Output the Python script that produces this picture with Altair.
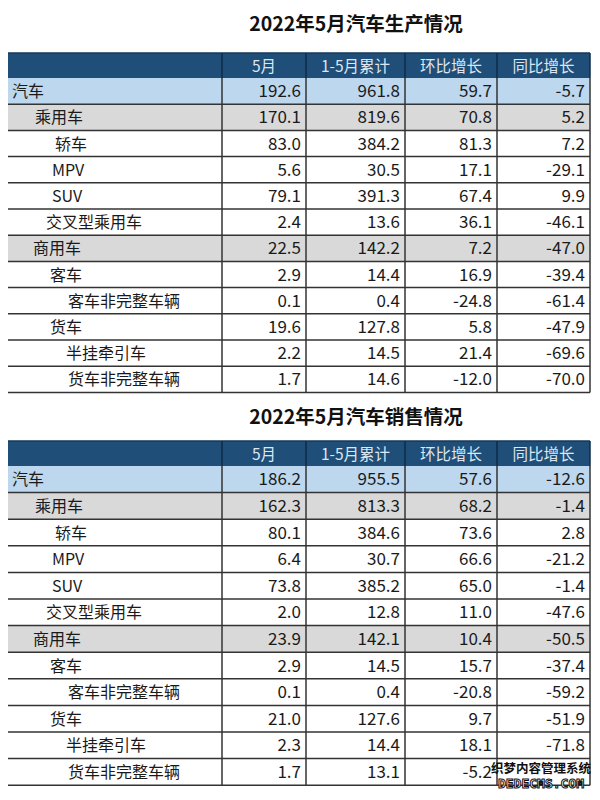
import altair as alt
import pandas as pd

# ---------------- data ----------------
title_prod = "2022年5月汽车生产情况"
title_sales = "2022年5月汽车销售情况"
columns = ["5月", "1-5月累计", "环比增长", "同比增长"]
categories = ["汽车", "乘用车", "轿车", "MPV", "SUV", "交叉型乘用车", "商用车",
              "客车", "客车非完整车辆", "货车", "半挂牵引车", "货车非完整车辆"]

prod_month = [192.6, 170.1, 83.0, 5.6, 79.1, 2.4, 22.5, 2.9, 0.1, 19.6, 2.2, 1.7]
prod_ytd = [961.8, 819.6, 384.2, 30.5, 391.3, 13.6, 142.2, 14.4, 0.4, 127.8, 14.5, 14.6]
prod_mom = [59.7, 70.8, 81.3, 17.1, 67.4, 36.1, 7.2, 16.9, -24.8, 5.8, 21.4, -12.0]
prod_yoy = [-5.7, 5.2, 7.2, -29.1, 9.9, -46.1, -47.0, -39.4, -61.4, -47.9, -69.6, -70.0]

sales_month = [186.2, 162.3, 80.1, 6.4, 73.8, 2.0, 23.9, 2.9, 0.1, 21.0, 2.3, 1.7]
sales_ytd = [955.5, 813.3, 384.6, 30.7, 385.2, 12.8, 142.1, 14.5, 0.4, 127.6, 14.4, 13.1]
sales_mom = [57.6, 68.2, 73.6, 66.6, 65.0, 11.0, 10.4, 15.7, -20.8, 9.7, 18.1, -5.2]
# last value is hidden under the site watermark in the reference
sales_yoy = [-12.6, -1.4, 2.8, -21.2, -1.4, -47.6, -50.5, -37.4, -59.2, -51.9, -71.8, None]

watermark_cn = "织梦内容管理系统"
watermark_en = "DEDECMS.COM"

# ---------------- layout / style ----------------
W, H = 584, 784
COL_EDGES = [8, 222, 306, 405, 497, 590]
HEAD_H = 25
LABEL_X = [12, 35, 55, 52, 52, 46, 33, 50, 68, 50, 66, 68]
ROW_KIND = ["total", "sub", "", "", "", "", "sub", "", "", "", "", ""]
KIND_FILL = {"total": "#bdd7ee", "sub": "#d9d9d9", "": "#ffffff"}
HEAD_FILL = "#1f4e79"
LINE = "#333333"
FONT = "Noto Sans CJK SC"

tables = [
    dict(title=title_prod, title_y=25, top=53, row_h=26.2,
         vals=[prod_month, prod_ytd, prod_mom, prod_yoy]),
    dict(title=title_sales, title_y=418, top=441, row_h=26.6,
         vals=[sales_month, sales_ytd, sales_mom, sales_yoy]),
]

rects, rules, titles, heads, labels, nums = [], [], [], [], [], []
for t in tables:
    top = t["top"]
    rh = t["row_h"]
    body_top = top + HEAD_H
    bottom = body_top + rh * len(categories)
    titles.append(dict(x=356, y=t["title_y"], text=t["title"]))
    rects.append(dict(x=COL_EDGES[0], x2=COL_EDGES[-1], y=top, y2=body_top, fill=HEAD_FILL))
    for j, c in enumerate(columns):
        heads.append(dict(x=(COL_EDGES[j + 1] + COL_EDGES[j + 2]) / 2, y=top + HEAD_H / 2 + 1, text=c))
    for i, cat in enumerate(categories):
        y0 = body_top + i * rh
        rects.append(dict(x=COL_EDGES[0], x2=COL_EDGES[-1], y=y0, y2=y0 + rh,
                          fill=KIND_FILL[ROW_KIND[i]]))
        labels.append(dict(x=LABEL_X[i], y=y0 + rh / 2 + 1, text=cat))
        for j in range(4):
            v = t["vals"][j][i]
            if v is None:
                continue
            nums.append(dict(x=COL_EDGES[j + 2] - 5, y=y0 + rh / 2 + 1, text=f"{v:.1f}"))
        rules.append(dict(x=COL_EDGES[0], x2=COL_EDGES[-1], y=y0 + rh, y2=y0 + rh, c=LINE, w=1.5))
    rules.append(dict(x=COL_EDGES[0], x2=COL_EDGES[-1], y=top, y2=top, c="#16385a", w=1.5))
    for xe in COL_EDGES[1:]:
        rules.append(dict(x=xe, x2=xe, y=top, y2=body_top, c="#0f2c48", w=1.5))
        rules.append(dict(x=xe, x2=xe, y=body_top, y2=bottom, c=LINE, w=1.5))

xs = alt.Scale(domain=[8, 592])
ys = alt.Scale(domain=[8, 792], reverse=True)
X = lambda f="x": alt.X(f"{f}:Q", scale=xs, axis=None)
Y = lambda f="y": alt.Y(f"{f}:Q", scale=ys, axis=None)

rect_layer = alt.Chart(pd.DataFrame(rects)).mark_rect().encode(
    x=X(), x2="x2:Q", y=Y(), y2="y2:Q", color=alt.Color("fill:N", scale=None))

rule_layer = alt.Chart(pd.DataFrame(rules)).mark_rule().encode(
    x=X(), x2="x2:Q", y=Y(), y2="y2:Q",
    color=alt.Color("c:N", scale=None), strokeWidth=alt.StrokeWidth("w:Q", scale=None))

title_layer = alt.Chart(pd.DataFrame(titles)).mark_text(
    font=FONT, fontSize=19.5, fontWeight="bold", align="center", baseline="middle", color="#111111"
).encode(x=X(), y=Y(), text="text:N")

head_layer = alt.Chart(pd.DataFrame(heads)).mark_text(
    font=FONT, fontSize=15.5, align="center", baseline="middle", color="#dde7f2"
).encode(x=X(), y=Y(), text="text:N")

label_layer = alt.Chart(pd.DataFrame(labels)).mark_text(
    font=FONT, fontSize=16, align="left", baseline="middle", color="#1a1a1a"
).encode(x=X(), y=Y(), text="text:N")

num_layer = alt.Chart(pd.DataFrame(nums)).mark_text(
    font=FONT, fontSize=17, align="right", baseline="middle", color="#1a1a1a"
).encode(x=X(), y=Y(), text="text:N")

wm = pd.DataFrame([dict(x=541, y=769, text=watermark_cn)])
wm2 = pd.DataFrame([dict(x=541, y=784, text=watermark_en)])
wm_layer = alt.Chart(wm).mark_text(
    font=FONT, fontSize=12.5, fontWeight="bold", align="center", baseline="middle",
    color="#111111"
).encode(x=X(), y=Y(), text="text:N")
wm2_layer = alt.Chart(wm2).mark_text(
    font="DejaVu Sans Mono", fontSize=13, fontWeight="bold", align="center", baseline="middle",
    color="#ffffff", stroke="#111111", strokeWidth=1
).encode(x=X(), y=Y(), text="text:N")

chart = alt.layer(
    rect_layer, rule_layer, title_layer, head_layer, label_layer, num_layer,
    wm_layer, wm2_layer
).properties(width=W, height=H, autosize="none", padding=0).configure_view(stroke=None)

chart.save("out.html", embed_options={"renderer": "svg", "actions": False})
